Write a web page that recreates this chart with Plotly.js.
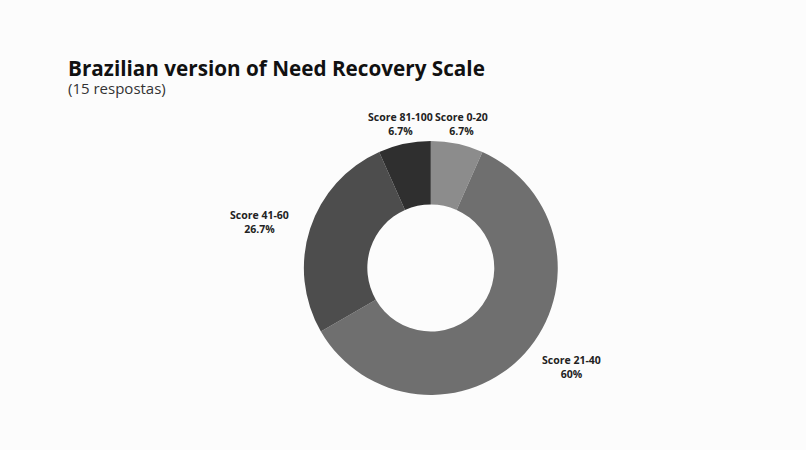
<!DOCTYPE html>
<html>
<head>
<meta charset="utf-8">
<script src="https://cdn.plot.ly/plotly-3.0.1.min.js"></script>
<style>html,body{margin:0;padding:0;background:#fcfcfc;}#chart{width:806px;height:450px;}</style>
</head>
<body>
<div id="chart"></div>
<script>
var categories = ["Score 0-20", "Score 21-40", "Score 41-60", "Score 81-100"];
var counts = [1, 9, 4, 1];
var sliceColors = ["#8c8c8c", "#6f6f6f", "#4d4d4d", "#2f2f2f"];
var titleText = "Brazilian version of Need Recovery Scale";
var subtitleText = "(15 respostas)";

var W = 806, H = 450;
var domX = [0.377, 0.692], domY = [0.122, 0.687];

var total = counts.reduce(function(a, b) { return a + b; }, 0);
var pctText = counts.map(function(v) {
  var p = Math.round(v / total * 1000) / 10;
  return (p % 1 === 0 ? p.toFixed(0) : p.toFixed(1)) + "%";
});

var trace = {
  type: "pie",
  labels: categories,
  values: counts,
  textinfo: "none",
  hole: 0.5,
  sort: false,
  direction: "clockwise",
  rotation: 0,
  marker: { colors: sliceColors, line: { width: 0 } },
  domain: { x: domX, y: domY },
  showlegend: false,
  hoverinfo: "label+percent"
};

// outside labels, placed along each slice's middle angle
var cx = (domX[0] + domX[1]) / 2 * W;
var cy = (1 - (domY[0] + domY[1]) / 2) * H;
var R = Math.min((domX[1] - domX[0]) * W, (domY[1] - domY[0]) * H) / 2;
var labelR = R * 1.16;
var annotations = [];
var cum = 0;
counts.forEach(function(v, i) {
  var mid = (cum + v / 2) / total * 2 * Math.PI;
  cum += v;
  var s = Math.sin(mid), c = Math.cos(mid);
  var px = cx + labelR * s, py = cy - labelR * c;
  var xa = Math.abs(s) < 0.5 ? "center" : (s > 0 ? "left" : "right");
  annotations.push({
    text: "<b>" + categories[i] + "</b><br><b>" + pctText[i] + "</b>",
    x: px / W, y: 1 - py / H, xref: "paper", yref: "paper",
    xanchor: xa, yanchor: "middle", align: "center", showarrow: false,
    font: { family: "Open Sans, sans-serif", size: 10.5, color: "#222222" }
  });
});

// title + subtitle in one block
annotations.push({
  text: "<b><span style='font-size:20.7px;color:#111111'>" + titleText + "</span></b><br>" +
        "<span style='font-size:15px;color:#333333'>" + subtitleText + "</span>",
  x: 66 / W, y: 1 - 52 / H, xref: "paper", yref: "paper",
  xanchor: "left", yanchor: "top", align: "left", showarrow: false,
  font: { family: "Open Sans, sans-serif", size: 14, color: "#222222" }
});

var layout = {
  width: W,
  height: H,
  margin: { l: 0, r: 0, t: 0, b: 0 },
  paper_bgcolor: "#fcfcfc",
  plot_bgcolor: "#fcfcfc",
  showlegend: false,
  annotations: annotations
};

Plotly.newPlot("chart", [trace], layout, { displayModeBar: false, staticPlot: true });
</script>
</body>
</html>
